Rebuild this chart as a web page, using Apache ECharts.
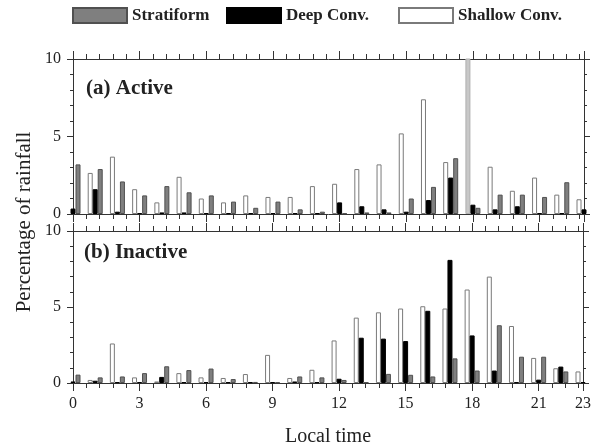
<!DOCTYPE html>
<html>
<head>
<meta charset="utf-8">
<script src="https://cdn.jsdelivr.net/npm/echarts@6/dist/echarts.min.js"></script>
<style>
  html, body { margin: 0; padding: 0; background: #fff; }
  #chart { width: 594px; height: 448px; }
</style>
</head>
<body>
<div id="chart"></div>
<script>
// local time (hour)
var hours = [0,1,2,3,4,5,6,7,8,9,10,11,12,13,14,15,16,17,18,19,20,21,22,23];

// (a) Active  ('-' = bar lies outside the frame, not visible)
var shallowA = ['-',2.65,3.7,1.6,0.75,2.4,1.0,0.75,1.2,1.1,1.1,1.8,1.95,2.9,3.2,5.2,7.4,3.35,11,3.05,1.5,2.35,1.25,0.95];
var deepA    = [0.35,1.6,0.15,0.05,0.1,0.1,0.05,0.05,0.05,0.05,0.05,0.05,0.75,0.5,0.3,0.15,0.9,2.35,0.6,0.3,0.5,0.05,0.05,0.3];
var stratA   = [3.2,2.9,2.1,1.2,1.8,1.4,1.2,0.8,0.4,0.8,0.3,0.15,0.05,0.1,0.1,1.0,1.75,3.6,0.4,1.25,1.25,1.1,2.05,'-'];

// (b) Inactive
var shallowB = ['-',0.2,2.6,0.37,0.1,0.65,0.37,0.33,0.59,1.85,0.33,0.87,2.8,4.3,4.65,4.9,5.05,4.9,6.15,7.0,3.75,1.65,0.97,0.76];
var deepB    = [0.1,0.15,0.05,0.05,0.4,0.05,0.05,0.05,0.05,0.05,0.1,0.05,0.28,2.98,2.92,2.76,4.75,8.1,3.13,0.82,0.05,0.22,1.08,0.05];
var stratB   = [0.55,0.37,0.43,0.65,1.1,0.85,0.95,0.26,0.07,0.05,0.43,0.37,0.2,0.05,0.6,0.54,0.43,1.62,0.82,3.8,1.73,1.73,0.76,'-'];

var xTicks = [0, 23, 3];   // min, max, interval
var yTicks = [0, 10, 5];

var serif = "'Liberation Serif', 'DejaVu Serif', serif";
var axisCol = "#333";

function xAxisFor(grid, pos, labels) {
    return {
        type: "value", gridIndex: grid, position: pos,
        min: xTicks[0], max: xTicks[1], interval: xTicks[2],
        axisLine: { show: true, onZero: false, lineStyle: { color: axisCol, width: 1 } },
        axisTick: { show: true, inside: false, length: 8, lineStyle: { color: axisCol } },
        minorTick: { show: true, splitNumber: 5, length: 5, lineStyle: { color: axisCol } },
        splitLine: { show: false },
        axisLabel: { show: labels, margin: 13, color: "#222", fontFamily: serif, fontSize: 16 },
        name: labels ? "Local time" : "",
        nameLocation: "middle", nameGap: 44,
        nameTextStyle: { color: "#222", fontFamily: serif, fontSize: 20 }
    };
}

function yAxisFor(grid, pos, labels) {
    return {
        type: "value", gridIndex: grid, position: pos,
        min: yTicks[0], max: yTicks[1], interval: yTicks[2],
        axisLine: { show: true, onZero: false, lineStyle: { color: axisCol, width: 1 } },
        axisTick: { show: true, inside: false, length: 6, lineStyle: { color: axisCol } },
        minorTick: { show: true, splitNumber: 5, length: 3, lineStyle: { color: axisCol } },
        splitLine: { show: false },
        axisLabel: { show: labels, margin: 12, color: "#222", fontFamily: serif, fontSize: 16 }
    };
}

function barSeries(name, vals, g, color, border) {
    return {
        name: name, type: "bar",
        xAxisIndex: g * 2, yAxisIndex: g * 2,
        barWidth: 5, barGap: "0%",
        clip: true,
        data: hours.map(function (h, i) {
            var v = vals[i];
            // bar running off the top of the panel is drawn light grey
            if (v > yTicks[1]) return { value: [h, v], itemStyle: { color: "#c8c8c8", borderColor: "#b0b0b0" } };
            return [h, v];
        }),
        itemStyle: { color: color, borderColor: border, borderWidth: 1 }
    };
}

function legendAt(name, left) {
    return {
        data: [name], left: left, top: 2, padding: 5,
        icon: "rect", itemWidth: 54, itemHeight: 15,
        textStyle: { color: "#222", fontFamily: serif, fontSize: 17, fontWeight: "bold" }
    };
}

var option = {
    animation: false,
    legend: [
        legendAt("Stratiform", 67),
        legendAt("Deep Conv.", 221),
        legendAt("Shallow Conv.", 393)
    ],
    grid: [
        { left: 73, right: 10, top: 59, height: 155 },
        { left: 73, right: 10, top: 231, height: 155 }
    ],
    xAxis: [
        xAxisFor(0, "bottom", false), xAxisFor(0, "top", false),
        xAxisFor(1, "bottom", true), xAxisFor(1, "top", false)
    ],
    yAxis: [
        yAxisFor(0, "left", true), yAxisFor(0, "right", false),
        yAxisFor(1, "left", true), yAxisFor(1, "right", false)
    ],
    graphic: [
        { type: "text", left: 86, top: 78,
          style: { text: "(a) Active", fill: "#222", font: "bold 21px " + serif } },
        { type: "text", left: 84, top: 242,
          style: { text: "(b) Inactive", fill: "#222", font: "bold 21px " + serif } },
        { type: "text", x: 24, y: 222, rotation: Math.PI / 2,
          style: { text: "Percentage of rainfall", fill: "#222", font: "21px " + serif,
                   align: "center", verticalAlign: "middle" } }
    ],
    series: [
        barSeries("Shallow Conv.", shallowA, 0, "#ffffff", "#7a7a7a"),
        barSeries("Deep Conv.", deepA, 0, "#000000", "#000000"),
        barSeries("Stratiform", stratA, 0, "#7f7f7f", "#505050"),
        barSeries("Shallow Conv.", shallowB, 1, "#ffffff", "#7a7a7a"),
        barSeries("Deep Conv.", deepB, 1, "#000000", "#000000"),
        barSeries("Stratiform", stratB, 1, "#7f7f7f", "#505050")
    ]
};

var myChart = echarts.init(document.getElementById("chart"));
myChart.setOption(option);
</script>
</body>
</html>
